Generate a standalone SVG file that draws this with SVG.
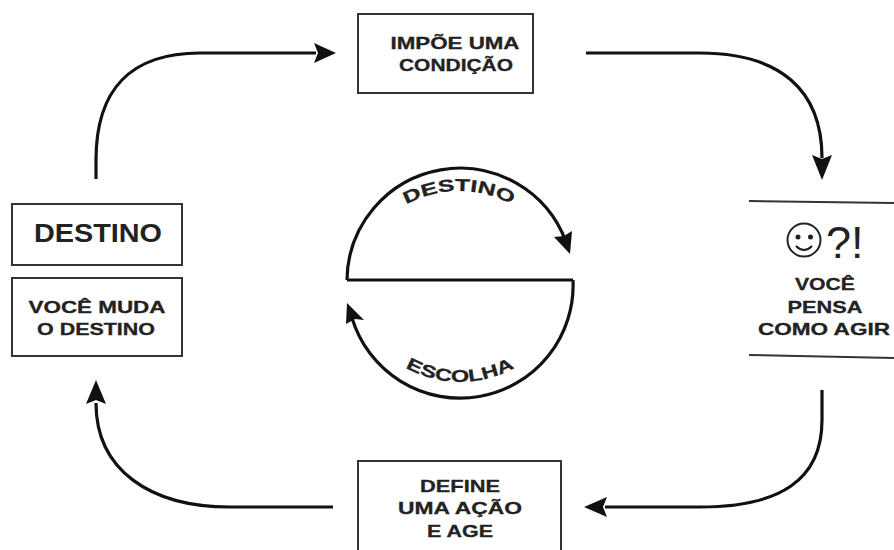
<svg xmlns="http://www.w3.org/2000/svg" xmlns:xlink="http://www.w3.org/1999/xlink" width="894" height="550" viewBox="0 0 894 550">
<style>
text{font-family:"Liberation Sans",Arial,sans-serif;font-weight:700;fill:#222;text-anchor:middle}
.t{font-size:17px;stroke:#222;stroke-width:.3px}
.box{fill:#fff;stroke:#333;stroke-width:2}
.c{fill:none;stroke:#111;stroke-width:3.2}
.h{fill:#111;stroke:none}
.l{fill:none;stroke:#333;stroke-width:2}
</style>
<defs>
<path id="p1" d="M349 301 A110 110 0 0 1 569 301"/>
<path id="p2" d="M349 271 A111 111 0 0 0 571 271"/>
</defs>
<rect width="894" height="550" fill="#fff"/>
<g id="connectors">
<path class="c" d="M96 179 V160 C96 90 130 53 200 53 H316"/>
<polygon class="h" points="336,53 314,43 318,53 314,63"/>
<path class="c" d="M586 53 H700 C780 53 822 90 822 158"/>
<polygon class="h" points="822,180 812,155 822,159 832,155"/>
<path class="c" d="M822 390 V420 C822 480 780 507 700 507 H605"/>
<polygon class="h" points="584,507 607,497 603,507 607,517"/>
<path class="c" d="M333 507 H230 C150 507 96 470 96 403"/>
<polygon class="h" points="96,380 86,404 96,400 106,404"/>
<path class="c" d="M347 280 A113 113 0 0 1 566 242"/>
<polygon class="h" points="570,254 554,237 564,236 572,231"/>
<path class="c" d="M347 280 H573"/>
<path class="c" d="M573 280 A113 113 0 0 1 352 318"/>
<polygon class="h" points="347,303 364,320 355,319 346,324"/>
<text style="font-size:17px;stroke:#222;stroke-width:.3px" textLength="110" lengthAdjust="spacingAndGlyphs"><textPath xlink:href="#p1" startOffset="50%">DESTINO</textPath></text>
<text style="font-size:17px;stroke:#222;stroke-width:.3px" textLength="114" lengthAdjust="spacingAndGlyphs"><textPath xlink:href="#p2" startOffset="50%">ESCOLHA</textPath></text>
</g>
<g id="n-condicao">
<rect class="box" x="358" y="14" width="175" height="79"/>
<text class="t" x="455" y="49" textLength="129" lengthAdjust="spacingAndGlyphs">IMPÕE UMA</text>
<text class="t" x="456" y="71" textLength="114" lengthAdjust="spacingAndGlyphs">CONDIÇÃO</text>
</g>
<g id="n-pensa">
<path class="l" d="M749 201 L894 203"/>
<path class="l" d="M749 355 L894 358"/>
<circle cx="804" cy="240" r="16.5" fill="none" stroke="#222" stroke-width="2"/>
<circle cx="798" cy="237" r="2.5" fill="#222"/>
<circle cx="810.500" cy="237" r="2.5" fill="#222"/>
<path d="M796 246 Q804 254 812 246" fill="none" stroke="#222" stroke-width="2"/>
<text x="826" y="258" style="font-size:45px;font-weight:400;text-anchor:start">?!</text>
<text class="t" x="825" y="290" textLength="60" lengthAdjust="spacingAndGlyphs">VOCÊ</text>
<text class="t" x="825" y="313" textLength="75" lengthAdjust="spacingAndGlyphs">PENSA</text>
<text class="t" x="824" y="335" textLength="132" lengthAdjust="spacingAndGlyphs">COMO AGIR</text>
</g>
<g id="n-acao">
<path class="box" d="M358 550 V461 H561 V550"/>
<text class="t" x="460" y="492" textLength="80" lengthAdjust="spacingAndGlyphs">DEFINE</text>
<text class="t" x="460" y="514" textLength="124" lengthAdjust="spacingAndGlyphs">UMA AÇÃO</text>
<text class="t" x="460" y="537" textLength="66" lengthAdjust="spacingAndGlyphs">E AGE</text>
</g>
<g id="n-destino">
<rect class="box" x="12" y="204" width="170" height="61"/>
<text x="98" y="242" style="font-size:25px" textLength="128" lengthAdjust="spacingAndGlyphs">DESTINO</text>
</g>
<g id="n-muda">
<rect class="box" x="12" y="278" width="170" height="78"/>
<text class="t" x="97" y="313" textLength="137" lengthAdjust="spacingAndGlyphs">VOCÊ MUDA</text>
<text class="t" x="96" y="335" textLength="118" lengthAdjust="spacingAndGlyphs">O DESTINO</text>
</g>
</svg>
